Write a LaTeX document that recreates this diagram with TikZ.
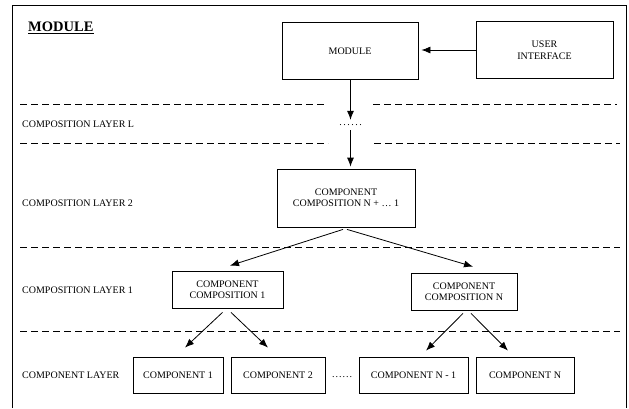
\documentclass[tikz,border=0pt]{standalone}
\usepackage{fontspec}
\setmainfont{Liberation Serif}
\usetikzlibrary{arrows.meta}

\newcommand{\dotrow}[1]{.\hspace{#1}.\hspace{#1}.\hspace{#1}.\hspace{#1}.\hspace{#1}.}

\tikzset{
  box/.style={draw, line width=0.8pt, minimum width=#1, minimum height=36pt,
    align=center, inner sep=1pt, font=\fontsize{10}{11.5}\selectfont},
  layer/.style={anchor=west, inner sep=0pt, font=\fontsize{10}{11.5}\selectfont},
  separator/.style={line width=0.8pt, dash pattern=on 7pt off 4pt},
  link/.style={line width=0.8pt, -{Latex[length=9pt,width=7pt]}}
}

\begin{document}
\begin{tikzpicture}[x=1pt,y=-1pt]
  \useasboundingbox (0,0) rectangle (629,408);
  %Frame and title
  \draw[line width=0.8pt] (12,408) -- (12,5) -- (626,5) -- (626,408);
  \node[anchor=base west, inner sep=0pt] (title) at (28,31)
    {\fontsize{14.5}{16}\selectfont\bfseries MODULE};
  \draw[line width=1.3pt] ([yshift=-2.5pt]title.south west) -- ([yshift=-2.5pt]title.south east);

  %Layer separators
  \draw[separator] (20,104) -- (327,104);
  \draw[separator] (373,104) -- (617,104);
  \draw[separator] (20,143) -- (328,143);
  \draw[separator] (374,143) -- (620,143);
  \draw[separator] (20,247) -- (620,247);
  \draw[separator] (20,331) -- (620,331);

  %Layer names
  \node[layer] (layerL) at (22,124) {COMPOSITION LAYER L};
  \node[layer] (layer2) at (22,203) {COMPOSITION LAYER 2};
  \node[layer] (layer1) at (22,290) {COMPOSITION LAYER 1};
  \node[layer] (layer0) at (22,375) {COMPONENT LAYER};

  %Module and user interface
  \node[box=136pt, minimum height=57pt] (module) at (350,51) {MODULE};
  \node[box=137pt, minimum height=57pt] (ui) at (544.5,50) {USER\\INTERFACE};

  %Compositions
  \node[inner sep=0pt, minimum height=10pt, font=\fontsize{10}{11.5}\selectfont]
    (dotsL) at (350.5,125) {\dotrow{1.5pt}};
  \node[box=138pt, minimum height=58pt] (compNN) at (346,198)
    {COMPONENT\\COMPOSITION N + \dots{} 1};
  \node[box=111pt, minimum height=37pt] (comp1) at (227.5,289.5)
    {COMPONENT\\COMPOSITION 1};
  \node[box=106pt, minimum height=37pt] (compN) at (464,291.5)
    {COMPONENT\\COMPOSITION N};

  %Components
  \node[box=90pt] (c1) at (178,375) {COMPONENT 1};
  \node[box=94pt] (c2) at (278,375) {COMPONENT 2};
  \node[inner sep=0pt, font=\fontsize{10}{11.5}\selectfont] (dotsC) at (342,377) {\dotrow{1pt}};
  \node[box=109pt] (cn1) at (413.5,375) {COMPONENT N - 1};
  \node[box=98pt] (cn) at (525,375) {COMPONENT N};

  %Arrows
  \draw[link] (ui.west) -- ([xshift=3pt]module.east |- ui.west);
  \draw[link] (module.south -| dotsL) -- (dotsL.north);
  \draw[link] (dotsL.south) -- ([yshift=2pt]dotsL |- compNN.north);
  \draw[link] ([xshift=-3pt,yshift=-2pt]compNN.south) -- ([xshift=2.5pt,yshift=5pt]comp1.north);
  \draw[link] ([xshift=1pt,yshift=-2pt]compNN.south) -- ([xshift=9pt,yshift=6pt]compN.north);
  \draw[link] ([xshift=-5pt,yshift=-4pt]comp1.south) -- ([xshift=7pt,yshift=9pt]c1.north);
  \draw[link] ([xshift=3.5pt,yshift=-4pt]comp1.south) -- ([xshift=-10pt,yshift=9pt]c2.north);
  \draw[link] ([xshift=-1pt,yshift=-3pt]compN.south) -- ([xshift=12.5pt,yshift=6pt]cn1.north);
  \draw[link] ([xshift=7pt,yshift=-3pt]compN.south) -- ([xshift=-17pt,yshift=6pt]cn.north);
\end{tikzpicture}
\end{document}
